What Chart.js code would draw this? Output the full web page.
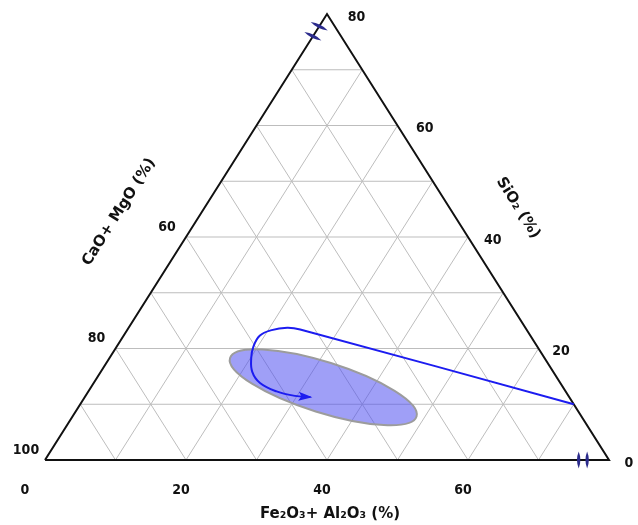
<!DOCTYPE html>
<html>
<head>
<meta charset="utf-8">
<title>Ternary diagram</title>
<script src="https://cdn.jsdelivr.net/npm/chart.js@4.4.1/dist/chart.umd.min.js"></script>
<style>
  html, body { margin: 0; padding: 0; background: #fff; }
</style>
</head>
<body>
<canvas id="chart" width="638" height="525"></canvas>
<script>
// grid ticks, in percent
const axisMax = 80;
const gridTicks = [10, 20, 30, 40, 50, 60, 70];
const bottomTicks = [0, 20, 40, 60];           // Fe2O3 + Al2O3
const rightTicks = [0, 20, 40, 60, 80];        // SiO2
const leftTickAt = [0, 20, 40];                // CaO + MgO labels sit at these SiO2 rows
const leftTickLabels = ['100', '80', '60'];

// trend path (Fe2O3+Al2O3, SiO2)
const pathFe = [70, 24.5, 22.5, 20.5, 19.3, 19.4, 20.1, 21.5, 23.6, 26.7, 29.7, 32.0];
const pathSi = [10, 23.4, 23.7, 23.3, 22.3, 20.3, 18.3, 15.8, 13.8, 12.3, 11.5, 11.3];

// shaded field: both ends of its long axis, and width/length ratio
const fieldFe = [17.1, 48.8];
const fieldSi = [18.3, 7.8];
const fieldRatio = 0.26;

// axis break marks
const breakLeftSi = [76.0, 77.8];
const breakBottomFe = [75.7, 76.9];

const TICK_FONT = 'bold 14px "DejaVu Sans Condensed", "DejaVu Sans", sans-serif';
const TITLE_FONT = 'bold 15px "DejaVu Sans", sans-serif';

// ternary -> plot coords
function toXY(fe, si) {
    return { x: fe + si / 2, y: si };
}

let datasets = [];
gridTicks.forEach(t => {
    datasets.push({ data: [toXY(0, t), toXY(axisMax - t, t)] });
    datasets.push({ data: [toXY(t, 0), toXY(t, axisMax - t)] });
    datasets.push({ data: [toXY(axisMax - t, 0), toXY(0, axisMax - t)] });
});
datasets = datasets.map(d => Object.assign(d, {
    borderColor: '#bdbdbd', borderWidth: 1, order: 10
}));
datasets.push({
    data: [toXY(0, 0), toXY(axisMax, 0), toXY(0, axisMax), toXY(0, 0)],
    borderColor: '#111', borderWidth: 2, order: 5, borderJoinStyle: 'miter'
});
const curveIndex = datasets.length;
datasets.push({
    data: pathFe.map((f, i) => toXY(f, pathSi[i])),
    borderColor: '#1c1cf0', borderWidth: 2, tension: 0.4, order: 1
});
datasets.forEach(d => {
    d.showLine = true;
    d.pointRadius = 0;
    d.clip = false;
});

function px(chart, fe, si) {
    const p = toXY(fe, si);
    return { x: chart.scales.x.getPixelForValue(p.x), y: chart.scales.y.getPixelForValue(p.y) };
}

function lens(ctx, cx, cy, ang, len, thick) {
    ctx.save();
    ctx.translate(cx, cy);
    ctx.rotate(ang);
    ctx.beginPath();
    ctx.moveTo(-len / 2, 0);
    ctx.quadraticCurveTo(0, -thick, len / 2, 0);
    ctx.quadraticCurveTo(0, thick, -len / 2, 0);
    ctx.fillStyle = '#2b2b8c';
    ctx.fill();
    ctx.restore();
}

const ternaryDecor = {
    id: 'ternaryDecor',
    beforeDatasetDraw(chart, args) {
        if (args.index !== curveIndex) return;
        const ctx = chart.ctx;
        const a = px(chart, fieldFe[0], fieldSi[0]);
        const b = px(chart, fieldFe[1], fieldSi[1]);
        const len = Math.hypot(b.x - a.x, b.y - a.y) / 2;
        ctx.save();
        ctx.beginPath();
        ctx.ellipse((a.x + b.x) / 2, (a.y + b.y) / 2, len, len * fieldRatio,
            Math.atan2(b.y - a.y, b.x - a.x), 0, Math.PI * 2);
        ctx.fillStyle = 'rgba(80,80,240,0.55)';
        ctx.fill();
        ctx.lineWidth = 2;
        ctx.strokeStyle = '#9c9c9c';
        ctx.stroke();
        ctx.restore();
    },
    afterDatasetsDraw(chart) {
        const ctx = chart.ctx;
        // arrow head at the end of the path
        const n = pathFe.length;
        const tip = px(chart, pathFe[n - 1], pathSi[n - 1]);
        const prev = px(chart, pathFe[n - 2], pathSi[n - 2]);
        const ang = Math.atan2(tip.y - prev.y, tip.x - prev.x);
        ctx.save();
        ctx.translate(tip.x, tip.y);
        ctx.rotate(ang);
        ctx.beginPath();
        ctx.moveTo(2, 0);
        ctx.lineTo(-12, -4.5);
        ctx.lineTo(-9, 0);
        ctx.lineTo(-12, 4.5);
        ctx.closePath();
        ctx.fillStyle = '#1c1cf0';
        ctx.fill();
        ctx.restore();

        // break marks
        const l0 = px(chart, 0, 0), l1 = px(chart, 0, axisMax);
        const edgeAng = Math.atan2(l1.y - l0.y, l1.x - l0.x);
        breakLeftSi.forEach(s => {
            const p = px(chart, 0, s);
            lens(ctx, p.x, p.y, edgeAng + Math.PI / 2 - 0.1, 19, 3.6);
        });
        breakBottomFe.forEach(f => {
            const p = px(chart, f, 0);
            lens(ctx, p.x, p.y, Math.PI / 2, 17, 3.4);
        });
    },
    afterDraw(chart) {
        const ctx = chart.ctx;
        ctx.save();
        ctx.fillStyle = '#111';
        ctx.textAlign = 'center';
        ctx.textBaseline = 'middle';
        ctx.font = TICK_FONT;
        bottomTicks.forEach(t => {
            const p = px(chart, t, 0);
            ctx.fillText(String(t), t === 0 ? p.x - 20 : p.x - 5, p.y + 30);
        });
        rightTicks.forEach(t => {
            const p = px(chart, axisMax - t, t);
            ctx.fillText(String(t), p.x + 20 + t * 0.12, p.y + 3);
        });
        leftTickAt.forEach((s, i) => {
            const p = px(chart, 0, s);
            ctx.fillText(leftTickLabels[i], p.x - 19, p.y - 10);
        });

        // axis titles
        const l0 = px(chart, 0, 0), l1 = px(chart, 0, axisMax);
        const edgeAng = Math.atan2(l1.y - l0.y, l1.x - l0.x);
        ctx.font = TITLE_FONT;
        ctx.save();
        ctx.translate(119, 212);
        ctx.rotate(edgeAng);
        ctx.fillText('CaO+ MgO (%)', 0, 0);
        ctx.restore();
        ctx.save();
        ctx.translate(518, 208);
        ctx.rotate(-edgeAng);
        ctx.fillText('SiO₂ (%)', 0, 0);
        ctx.restore();
        ctx.fillText('Fe₂O₃+ Al₂O₃ (%)', 330, 514);
        ctx.restore();
    }
};

new Chart(document.getElementById('chart'), {
    type: 'scatter',
    data: { datasets: datasets },
    options: {
        responsive: false,
        animation: false,
        layout: { padding: { left: 45, right: 29, top: 14, bottom: 65 } },
        scales: {
            x: { type: 'linear', min: 0, max: axisMax, display: false },
            y: { type: 'linear', min: 0, max: axisMax, display: false }
        },
        plugins: { legend: { display: false }, tooltip: { enabled: false } }
    },
    plugins: [ternaryDecor]
});
</script>
</body>
</html>
